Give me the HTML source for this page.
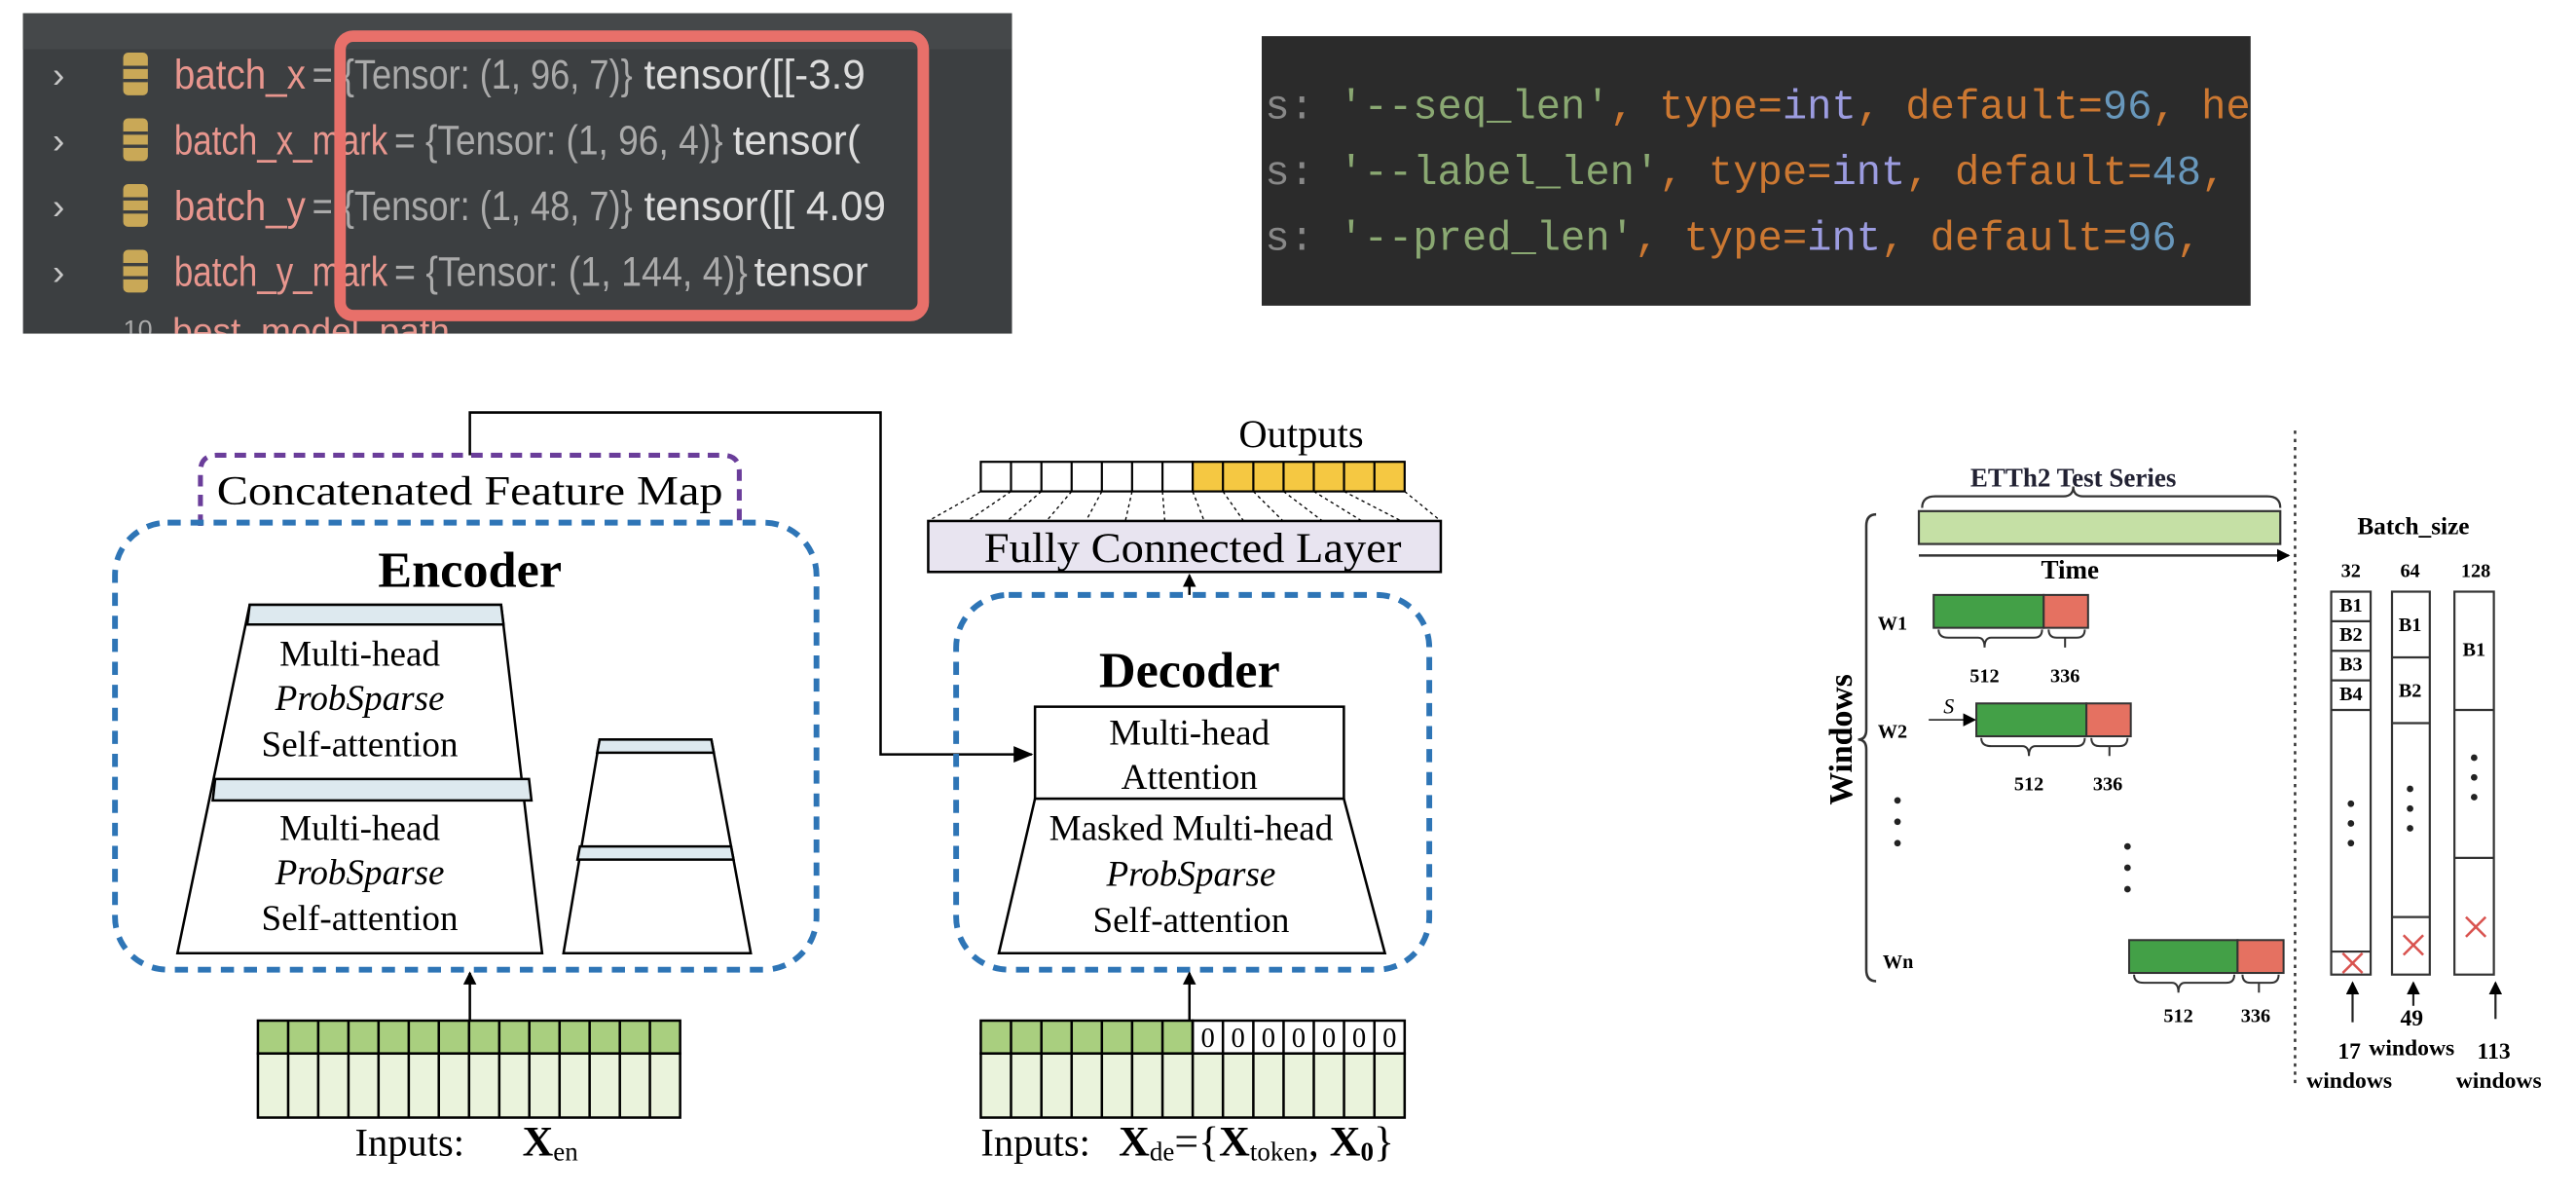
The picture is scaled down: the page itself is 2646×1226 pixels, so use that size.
<!DOCTYPE html>
<html><head><meta charset="utf-8"><style>
html,body{margin:0;padding:0;background:#fff;}
svg{display:block;}
</style></head><body>
<svg width="2646" height="1226" viewBox="0 0 1568 726.5" preserveAspectRatio="none" xmlns="http://www.w3.org/2000/svg">
<defs>
<marker id="ah" markerWidth="8" markerHeight="8" refX="7" refY="4" orient="auto" markerUnits="userSpaceOnUse"><path d="M0,0 L8,4 L0,8 z" fill="#000"/></marker>
<marker id="ah2" markerWidth="12" markerHeight="10" refX="11" refY="5" orient="auto" markerUnits="userSpaceOnUse"><path d="M0,0 L12,5 L0,10 z" fill="#000"/></marker>
<clipPath id="ide"><rect x="14" y="8" width="602" height="195"/></clipPath>
</defs>
<rect width="1568" height="726.5" fill="#fff"/>
<!-- top-left IDE panel -->
<rect x="14" y="8" width="602" height="195" fill="#3c3f41"/>
<rect x="14" y="8" width="602" height="22" fill="#45484a"/>
<g font-family="Liberation Sans, sans-serif" font-size="25" clip-path="url(#ide)">
<g fill="#c8c8c8" font-size="22"><text x="32" y="53">›</text><text x="32" y="93">›</text><text x="32" y="133">›</text><text x="32" y="173">›</text></g>
<g fill="#c9a857"><rect x="75" y="32" width="15" height="26" rx="3"/><rect x="75" y="72" width="15" height="26" rx="3"/><rect x="75" y="112" width="15" height="26" rx="3"/><rect x="75" y="152" width="15" height="26" rx="3"/></g>
<g fill="#3c3f41"><rect x="75" y="40" width="15" height="2"/><rect x="75" y="48" width="15" height="2"/><rect x="75" y="80" width="15" height="2"/><rect x="75" y="88" width="15" height="2"/><rect x="75" y="120" width="15" height="2"/><rect x="75" y="128" width="15" height="2"/><rect x="75" y="160" width="15" height="2"/><rect x="75" y="168" width="15" height="2"/></g>
<text x="106" y="54" fill="#e8968e" textLength="80" lengthAdjust="spacingAndGlyphs">batch_x</text><text x="190" y="54" fill="#aaa" textLength="195" lengthAdjust="spacingAndGlyphs">= {Tensor: (1, 96, 7)}</text><text x="392" y="54" fill="#ddd">tensor([[-3.9</text>
<text x="106" y="94" fill="#e8968e" textLength="130" lengthAdjust="spacingAndGlyphs">batch_x_mark</text><text x="240" y="94" fill="#aaa" textLength="200" lengthAdjust="spacingAndGlyphs">= {Tensor: (1, 96, 4)}</text><text x="446" y="94" fill="#ddd">tensor(</text>
<text x="106" y="134" fill="#e8968e" textLength="80" lengthAdjust="spacingAndGlyphs">batch_y</text><text x="190" y="134" fill="#aaa" textLength="195" lengthAdjust="spacingAndGlyphs">= {Tensor: (1, 48, 7)}</text><text x="392" y="134" fill="#ddd">tensor([[ 4.09</text>
<text x="106" y="174" fill="#e8968e" textLength="130" lengthAdjust="spacingAndGlyphs">batch_y_mark</text><text x="240" y="174" fill="#aaa" textLength="215" lengthAdjust="spacingAndGlyphs">= {Tensor: (1, 144, 4)}</text><text x="459" y="174" fill="#ddd">tensor</text>
<text x="75" y="206" fill="#aaa" font-size="16">10</text>
<text x="105" y="209" fill="#e8968e" font-size="22">best_model_path</text>
</g>
<rect x="207" y="22" width="355" height="170" rx="8" fill="none" stroke="#e8706a" stroke-width="7"/>
<!-- top-right code panel -->
<rect x="768" y="22" width="602" height="164" fill="#2b2b2b"/>
<g font-family="Liberation Mono, monospace" font-size="25">
<text x="770" y="72"><tspan fill="#888">s: </tspan><tspan fill="#8aa872">'--seq_len'</tspan><tspan fill="#cc7832">, type=</tspan><tspan fill="#9c9ce0">int</tspan><tspan fill="#cc7832">, default=</tspan><tspan fill="#6897bb">96</tspan><tspan fill="#cc7832">, he</tspan></text>
<text x="770" y="112"><tspan fill="#888">s: </tspan><tspan fill="#8aa872">'--label_len'</tspan><tspan fill="#cc7832">, type=</tspan><tspan fill="#9c9ce0">int</tspan><tspan fill="#cc7832">, default=</tspan><tspan fill="#6897bb">48</tspan><tspan fill="#cc7832">,</tspan></text>
<text x="770" y="152"><tspan fill="#888">s: </tspan><tspan fill="#8aa872">'--pred_len'</tspan><tspan fill="#cc7832">, type=</tspan><tspan fill="#9c9ce0">int</tspan><tspan fill="#cc7832">, default=</tspan><tspan fill="#6897bb">96</tspan><tspan fill="#cc7832">, </tspan></text>
</g>
<rect x="1370" y="22" width="40" height="164" fill="#fff"/>

<g font-family="Liberation Serif, serif" fill="#000">
<polyline points="286,277 286,251 536,251 536,459 628,459" fill="none" stroke="#000" stroke-width="1.5" marker-end="url(#ah2)"/>
<path d="M122,320 L122,287 Q122,277 132,277 L440,277 Q450,277 450,287 L450,320" fill="none" stroke="#6a3d9a" stroke-width="3" stroke-dasharray="7,5"/>
<text x="286" y="307" font-size="25" text-anchor="middle" textLength="308" lengthAdjust="spacingAndGlyphs">Concatenated Feature Map</text>
<rect x="70" y="318" width="427" height="272" rx="32" fill="none" stroke="#2e75b6" stroke-width="3.5" stroke-dasharray="8,6"/>
<text x="286" y="357" font-size="31" font-weight="bold" text-anchor="middle">Encoder</text>
<polygon points="152,368 305,368 330,580 108,580" fill="#fff" stroke="#000" stroke-width="1.5"/>
<polygon points="152,368 305,368 306.5,380 150.5,380" fill="#dde9ef" stroke="#000" stroke-width="1.5"/>
<polygon points="131,474 322,474 323.5,487 129.5,487" fill="#dde9ef" stroke="#000" stroke-width="1.5"/>
<g font-size="22" text-anchor="middle">
<text x="219" y="405">Multi-head</text><text x="219" y="432" font-style="italic">ProbSparse</text><text x="219" y="460">Self-attention</text>
<text x="219" y="511">Multi-head</text><text x="219" y="538" font-style="italic">ProbSparse</text><text x="219" y="566">Self-attention</text>
</g>
<polygon points="365,450 433,450 457,580 343,580" fill="#fff" stroke="#000" stroke-width="1.5"/>
<polygon points="365,450 433,450 434.5,458 363.5,458" fill="#dde9ef" stroke="#000" stroke-width="1.5"/>
<polygon points="353,515 445,515 446.5,523 351.5,523" fill="#dde9ef" stroke="#000" stroke-width="1.5"/>
<line x1="286" y1="621" x2="286" y2="592" stroke="#000" stroke-width="1.5" marker-end="url(#ah)"/>
<rect x="157" y="621" width="257" height="20" fill="#a9cf7f" stroke="#000" stroke-width="1.5"/>
<rect x="157" y="641" width="257" height="39" fill="#eaf3dc" stroke="#000" stroke-width="1.5"/>
<g stroke="#000" stroke-width="1.5">
<line x1="175.4" y1="621" x2="175.4" y2="680"/><line x1="193.7" y1="621" x2="193.7" y2="680"/><line x1="212.1" y1="621" x2="212.1" y2="680"/><line x1="230.4" y1="621" x2="230.4" y2="680"/><line x1="248.8" y1="621" x2="248.8" y2="680"/><line x1="267.1" y1="621" x2="267.1" y2="680"/><line x1="285.5" y1="621" x2="285.5" y2="680"/><line x1="303.9" y1="621" x2="303.9" y2="680"/><line x1="322.2" y1="621" x2="322.2" y2="680"/><line x1="340.6" y1="621" x2="340.6" y2="680"/><line x1="358.9" y1="621" x2="358.9" y2="680"/><line x1="377.3" y1="621" x2="377.3" y2="680"/><line x1="395.6" y1="621" x2="395.6" y2="680"/>
</g>
<text x="216" y="703" font-size="24">Inputs:</text>
<text x="318" y="703" font-size="26" font-weight="bold">X<tspan font-size="16" font-weight="normal" dy="3">en</tspan></text>

<text x="792" y="272" font-size="24" text-anchor="middle">Outputs</text>
<g stroke="#000" stroke-width="1.3">
<rect x="597" y="281" width="129" height="18" fill="#fff"/>
<rect x="726" y="281" width="129" height="18" fill="#f5c842"/>
<line x1="615.4" y1="281" x2="615.4" y2="299"/><line x1="633.9" y1="281" x2="633.9" y2="299"/><line x1="652.3" y1="281" x2="652.3" y2="299"/><line x1="670.7" y1="281" x2="670.7" y2="299"/><line x1="689.1" y1="281" x2="689.1" y2="299"/><line x1="707.6" y1="281" x2="707.6" y2="299"/><line x1="744.4" y1="281" x2="744.4" y2="299"/><line x1="762.9" y1="281" x2="762.9" y2="299"/><line x1="781.3" y1="281" x2="781.3" y2="299"/><line x1="799.7" y1="281" x2="799.7" y2="299"/><line x1="818.1" y1="281" x2="818.1" y2="299"/><line x1="836.6" y1="281" x2="836.6" y2="299"/>
</g>
<g stroke="#000" stroke-width="0.8" stroke-dasharray="2,2">
<line x1="597" y1="299" x2="565" y2="317"/><line x1="615.4" y1="299" x2="589" y2="317"/><line x1="633.9" y1="299" x2="613" y2="317"/><line x1="652.3" y1="299" x2="637" y2="317"/><line x1="670.7" y1="299" x2="661" y2="317"/><line x1="689.1" y1="299" x2="685" y2="317"/><line x1="707.6" y1="299" x2="709" y2="317"/><line x1="726" y1="299" x2="733" y2="317"/><line x1="744.4" y1="299" x2="757" y2="317"/><line x1="762.9" y1="299" x2="781" y2="317"/><line x1="781.3" y1="299" x2="805" y2="317"/><line x1="799.7" y1="299" x2="829" y2="317"/><line x1="818.1" y1="299" x2="853" y2="317"/><line x1="855" y1="299" x2="877" y2="317"/>
</g>
<rect x="565" y="317" width="312" height="31" fill="#e8e4f0" stroke="#000" stroke-width="1.5"/>
<text x="726" y="342" font-size="26" text-anchor="middle" textLength="254" lengthAdjust="spacingAndGlyphs">Fully Connected Layer</text>
<line x1="724" y1="362" x2="724" y2="350" stroke="#000" stroke-width="1.5" marker-end="url(#ah)"/>
<rect x="582" y="362" width="288" height="228" rx="32" fill="none" stroke="#2e75b6" stroke-width="3.5" stroke-dasharray="8,6"/>
<text x="724" y="418" font-size="31" font-weight="bold" text-anchor="middle">Decoder</text>
<rect x="630" y="430" width="188" height="56" fill="#fff" stroke="#000" stroke-width="1.5"/>
<polygon points="630,486 818,486 843,580 608,580" fill="#fff" stroke="#000" stroke-width="1.5"/>
<g font-size="22" text-anchor="middle">
<text x="724" y="453">Multi-head</text><text x="724" y="480">Attention</text>
<text x="725" y="511">Masked Multi-head</text><text x="725" y="539" font-style="italic">ProbSparse</text><text x="725" y="567">Self-attention</text>
</g>
<line x1="724" y1="621" x2="724" y2="592" stroke="#000" stroke-width="1.5" marker-end="url(#ah)"/>
<rect x="597" y="621" width="129" height="20" fill="#a9cf7f" stroke="#000" stroke-width="1.5"/>
<rect x="726" y="621" width="129" height="20" fill="#fff" stroke="#000" stroke-width="1.5"/>
<rect x="597" y="641" width="258" height="39" fill="#eaf3dc" stroke="#000" stroke-width="1.5"/>
<g stroke="#000" stroke-width="1.5">
<line x1="615.4" y1="621" x2="615.4" y2="680"/><line x1="633.9" y1="621" x2="633.9" y2="680"/><line x1="652.3" y1="621" x2="652.3" y2="680"/><line x1="670.7" y1="621" x2="670.7" y2="680"/><line x1="689.1" y1="621" x2="689.1" y2="680"/><line x1="707.6" y1="621" x2="707.6" y2="680"/><line x1="726" y1="621" x2="726" y2="680"/><line x1="744.4" y1="621" x2="744.4" y2="680"/><line x1="762.9" y1="621" x2="762.9" y2="680"/><line x1="781.3" y1="621" x2="781.3" y2="680"/><line x1="799.7" y1="621" x2="799.7" y2="680"/><line x1="818.1" y1="621" x2="818.1" y2="680"/><line x1="836.6" y1="621" x2="836.6" y2="680"/>
</g>
<g font-size="17" text-anchor="middle"><text x="735.2" y="637">0</text><text x="753.6" y="637">0</text><text x="772.1" y="637">0</text><text x="790.5" y="637">0</text><text x="808.9" y="637">0</text><text x="827.3" y="637">0</text><text x="845.8" y="637">0</text></g>
<text x="597" y="703" font-size="24">Inputs:</text>
<text x="681" y="703" font-size="26" font-weight="bold">X<tspan font-size="16" font-weight="normal" dy="3">de</tspan><tspan font-weight="normal" dy="-3">={</tspan>X<tspan font-size="16" font-weight="normal" dy="3">token</tspan><tspan font-weight="normal" dy="-3">, </tspan>X<tspan font-size="16" dy="3">0</tspan><tspan font-weight="normal" dy="-3">}</tspan></text>

<line x1="1397" y1="262" x2="1397" y2="662" stroke="#333" stroke-width="1.5" stroke-dasharray="2,3"/>
<g font-weight="bold">
<text x="1262" y="296" font-size="16" text-anchor="middle" fill="#223">ETTh2 Test Series</text>
<path d="M1170,309 Q1170,302 1178,302 L1256,302 Q1262,302 1262,296 Q1262,302 1268,302 L1380,302 Q1388,302 1388,309" fill="none" stroke="#333" stroke-width="1.3"/>
<rect x="1168" y="311" width="220" height="20" fill="#c5e0a5" stroke="#333" stroke-width="1.3"/>
<line x1="1168" y1="338" x2="1393" y2="338" stroke="#333" stroke-width="1.5" marker-end="url(#ah)"/>
<text x="1260" y="352" font-size="16" text-anchor="middle">Time</text>
<path d="M1142,313 Q1136,313 1136,320 L1136,444 Q1136,450 1131,450 Q1136,450 1136,456 L1136,590 Q1136,597 1142,597" fill="none" stroke="#333" stroke-width="1.5"/>
<text transform="translate(1127,450) rotate(-90)" font-size="20" text-anchor="middle">Windows</text>
<g font-size="12">
<text x="1143" y="383">W1</text><text x="1143" y="449">W2</text><text x="1146" y="589">Wn</text>
<text x="1208" y="415" text-anchor="middle">512</text><text x="1257" y="415" text-anchor="middle">336</text>
<text x="1235" y="481" text-anchor="middle">512</text><text x="1283" y="481" text-anchor="middle">336</text>
<text x="1326" y="622" text-anchor="middle">512</text><text x="1373" y="622" text-anchor="middle">336</text>
</g>
<text x="1469" y="325" font-size="15" text-anchor="middle">Batch_size</text>
<g font-size="12" text-anchor="middle"><text x="1431" y="351">32</text><text x="1467" y="351">64</text><text x="1507" y="351">128</text>
<text x="1431" y="372">B1</text><text x="1431" y="390">B2</text><text x="1431" y="408">B3</text><text x="1431" y="426">B4</text>
<text x="1467" y="384">B1</text><text x="1467" y="424">B2</text><text x="1506" y="399">B1</text>
<text x="1430" y="644" font-size="14">17</text><text x="1430" y="662" font-size="14">windows</text>
<text x="1468" y="624" font-size="14">49</text><text x="1468" y="642" font-size="14">windows</text>
<text x="1518" y="644" font-size="14">113</text><text x="1521" y="662" font-size="14">windows</text>
</g>
</g>
<text x="1183" y="434" font-size="13" font-style="italic">S</text>
<line x1="1174" y1="438" x2="1202" y2="438" stroke="#333" stroke-width="1" marker-end="url(#ah)"/>
<g stroke="#333" stroke-width="1.2">
<rect x="1177" y="362" width="67" height="20" fill="#43a047"/><rect x="1244" y="362" width="27" height="20" fill="#e57161"/>
<rect x="1203" y="428" width="67" height="20" fill="#43a047"/><rect x="1270" y="428" width="27" height="20" fill="#e57161"/>
<rect x="1296" y="572" width="66" height="20" fill="#43a047"/><rect x="1362" y="572" width="28" height="20" fill="#e57161"/>
</g>
<g fill="none" stroke="#333" stroke-width="1.2">
<path d="M1180,383 Q1180,388 1186,388 L1204,388 Q1208,388 1208,394 Q1208,388 1212,388 L1238,388 Q1243,388 1243,383"/>
<path d="M1247,383 Q1247,388 1252,388 L1257,388 L1257,394 L1257,388 L1264,388 Q1269,388 1269,383"/>
<path d="M1206,449 Q1206,454 1212,454 L1231,454 Q1235,454 1235,460 Q1235,454 1239,454 L1264,454 Q1269,454 1269,449"/>
<path d="M1273,449 Q1273,454 1278,454 L1284,454 L1284,460 L1284,454 L1290,454 Q1295,454 1295,449"/>
<path d="M1299,593 Q1299,598 1305,598 L1322,598 Q1326,598 1326,604 Q1326,598 1330,598 L1355,598 Q1360,598 1360,593"/>
<path d="M1365,593 Q1365,598 1370,598 L1375,598 L1375,604 L1375,598 L1382,598 Q1387,598 1387,593"/>
</g>
<g fill="#222"><circle cx="1155" cy="487" r="2"/><circle cx="1155" cy="500" r="2"/><circle cx="1155" cy="513" r="2"/>
<circle cx="1295" cy="515" r="2"/><circle cx="1295" cy="528" r="2"/><circle cx="1295" cy="541" r="2"/>
<circle cx="1431" cy="489" r="2"/><circle cx="1431" cy="501" r="2"/><circle cx="1431" cy="513" r="2"/>
<circle cx="1467" cy="480" r="2"/><circle cx="1467" cy="492" r="2"/><circle cx="1467" cy="504" r="2"/>
<circle cx="1506" cy="461" r="2"/><circle cx="1506" cy="473" r="2"/><circle cx="1506" cy="485" r="2"/></g>
<g fill="none" stroke="#333" stroke-width="1.3">
<rect x="1419" y="360" width="24" height="233"/><line x1="1419" y1="378" x2="1443" y2="378"/><line x1="1419" y1="396" x2="1443" y2="396"/><line x1="1419" y1="414" x2="1443" y2="414"/><line x1="1419" y1="432" x2="1443" y2="432"/><line x1="1419" y1="579" x2="1443" y2="579"/>
<rect x="1456" y="360" width="23" height="233"/><line x1="1456" y1="400" x2="1479" y2="400"/><line x1="1456" y1="440" x2="1479" y2="440"/><line x1="1456" y1="558" x2="1479" y2="558"/>
<rect x="1494" y="360" width="24" height="233"/><line x1="1494" y1="432" x2="1518" y2="432"/><line x1="1494" y1="522" x2="1518" y2="522"/>
</g>
<g stroke="#d9534f" stroke-width="1.5">
<line x1="1426" y1="580" x2="1438" y2="592"/><line x1="1438" y1="580" x2="1426" y2="592"/>
<line x1="1463" y1="569" x2="1475" y2="581"/><line x1="1475" y1="569" x2="1463" y2="581"/>
<line x1="1501" y1="558" x2="1513" y2="570"/><line x1="1513" y1="558" x2="1501" y2="570"/>
</g>
<g stroke="#222" stroke-width="1.3">
<line x1="1432" y1="622" x2="1432" y2="598" marker-end="url(#ah)"/>
<line x1="1469" y1="612" x2="1469" y2="598" marker-end="url(#ah)"/>
<line x1="1519" y1="620" x2="1519" y2="598" marker-end="url(#ah)"/>
</g>
</g>
</svg>
</body></html>
